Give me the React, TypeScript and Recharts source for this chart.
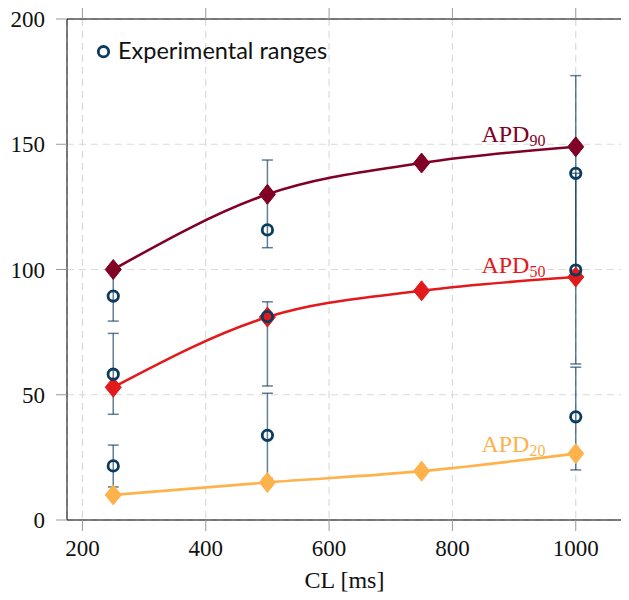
import React from 'react';
import {
  ComposedChart,
  Line,
  Scatter,
  XAxis,
  YAxis,
  CartesianGrid,
  ErrorBar,
  Legend,
} from 'recharts';

// Simulated action potential durations vs. cycle length
const cycleLengths = [250, 500, 750, 1000];
const apd90 = [100, 130, 142.5, 149];
const apd50 = [53, 81, 91.5, 97];
const apd20 = [10, 15, 19.5, 26.5];

// Experimental ranges: centre value with min / max
const expCl = [250, 250, 250, 500, 500, 500, 1000, 1000, 1000];
const expMean = [89.4, 58.2, 21.6, 115.8, 81.2, 33.8, 138.4, 99.8, 41.2];
const expLow = [79.4, 42.2, 13.2, 108.7, 53.5, 16.6, 99.6, 62.3, 20.0];
const expHigh = [100, 74.5, 29.9, 143.7, 87.1, 50.6, 177.4, 138.4, 61.0];

// Curve labels, anchored in data coordinates
const labelNames = ['90', '50', '20'];
const labelCl = [847, 847, 847];
const labelV = [151, 98.5, 27.1];

const xTicks = [200, 400, 600, 800, 1000];
const yTicks = [0, 50, 100, 150, 200];
const xDomain = [175, 1075];
const yDomain = [0, 200];

const C90 = '#800026';
const C50 = '#e31a1c';
const C20 = '#feb24c';
const CEXP = '#0b3b5e';
const SERIF = 'Liberation Serif';
const labelColors = [C90, C50, C20];

const toSeries = (vals: number[]) => cycleLengths.map((cl, i) => ({ cl, v: vals[i] }));
const s90 = toSeries(apd90);
const s50 = toSeries(apd50);
const s20 = toSeries(apd20);

const expData = expCl.map((cl, i) => ({
  cl,
  v: expMean[i],
  err: [expMean[i] - expLow[i], expHigh[i] - expMean[i]],
}));

const labelData = labelNames.map((sub, i) => ({
  cl: labelCl[i],
  v: labelV[i],
  sub,
  color: labelColors[i],
}));

const diamond = (color: string) => (props: any) => {
  const { cx, cy, index } = props;
  if (cx == null || cy == null) return <g key={index} />;
  return (
    <path
      key={`d-${index}`}
      d={`M${cx},${cy - 10}L${cx + 8},${cy}L${cx},${cy + 10}L${cx - 8},${cy}Z`}
      fill={color}
      stroke={color}
      strokeWidth={1}
      strokeLinejoin="round"
    />
  );
};

const ring = (props: any) => {
  const { cx, cy } = props;
  return <circle cx={cx} cy={cy} r={5.2} fill="none" stroke={CEXP} strokeWidth={2.8} />;
};

const hidden = () => <g />;

const apdLabel = (props: any) => {
  const { cx, cy, payload } = props;
  return (
    <text x={cx} y={cy} fill={payload.color} fontFamily={SERIF} fontSize={24}>
      APD
      <tspan fontSize={16} dy={4}>
        {payload.sub}
      </tspan>
    </text>
  );
};

const LegendBox = () => (
  <svg width={300} height={40} style={{ display: 'block', overflow: 'visible' }}>
    <circle cx={10.5} cy={13.7} r={5.2} fill="none" stroke={CEXP} strokeWidth={2.8} />
    <text x={25} y={20.5} fontFamily="Lato" fontSize={23.5} fill="#111">
      Experimental ranges
    </text>
  </svg>
);

const XTick = (props: any) => {
  const { x, y, payload } = props;
  return (
    <text x={x} y={y + 17} textAnchor="middle" fontFamily={SERIF} fontSize={23} fill="#111">
      {payload.value}
    </text>
  );
};

const YTick = (props: any) => {
  const { x, y, payload } = props;
  return (
    <text x={x} y={y + 8} textAnchor="end" fontFamily={SERIF} fontSize={23} fill="#111">
      {payload.value}
    </text>
  );
};

const blank = () => '';
const tickLine = { stroke: '#999', strokeWidth: 1 };
const axisLine = { stroke: '#000', strokeWidth: 1 };

export default function App() {
  return (
    <ComposedChart
      width={621}
      height={590}
      margin={{ top: 0, right: 0, bottom: 0, left: 0 }}
    >
      <CartesianGrid stroke="#dadada" strokeDasharray="7 5" strokeWidth={1.2} />
      <XAxis
        dataKey="cl"
        type="number"
        domain={xDomain}
        ticks={xTicks}
        allowDataOverflow
        height={78}
        tickSize={11}
        tickMargin={8}
        tick={<XTick />}
        tickLine={tickLine}
        axisLine={axisLine}
        label={{ value: 'CL [ms]', position: 'insideBottom', offset: 10, style: { fontFamily: SERIF, fontSize: 24, fill: '#111' } }}
      />
      <XAxis
        xAxisId="top"
        orientation="top"
        dataKey="cl"
        type="number"
        domain={xDomain}
        ticks={xTicks}
        allowDataOverflow
        height={11}
        tickSize={11}
        tickFormatter={blank}
        tickLine={tickLine}
        axisLine={axisLine}
      />
      <YAxis
        dataKey="v"
        type="number"
        domain={yDomain}
        ticks={yTicks}
        allowDataOverflow
        width={59}
        tickSize={11}
        tickMargin={11}
        tick={<YTick />}
        tickLine={tickLine}
        axisLine={axisLine}
      />
      <YAxis
        yAxisId="right"
        orientation="right"
        type="number"
        domain={yDomain}
        ticks={yTicks}
        allowDataOverflow
        width={7}
        tickSize={11}
        tickFormatter={blank}
        tickLine={tickLine}
        axisLine={axisLine}
      />
      <Legend
        layout="horizontal"
        verticalAlign="middle"
        align="center"
        wrapperStyle={{ left: 85, top: 30, width: 300, height: 40 }}
        content={LegendBox}
      />
      <Scatter data={expData} dataKey="v" shape={hidden} isAnimationActive={false} zIndex={350}>
        <ErrorBar dataKey="err" direction="y" width={5.5} stroke={CEXP} strokeOpacity={0.65} strokeWidth={1.5} zIndex={350} />
      </Scatter>
      <Line data={s90} dataKey="v" type="monotone" stroke={C90} strokeWidth={2.6} dot={diamond(C90)} activeDot={false} isAnimationActive={false} />
      <Line data={s50} dataKey="v" type="monotone" stroke={C50} strokeWidth={2.6} dot={diamond(C50)} activeDot={false} isAnimationActive={false} />
      <Line data={s20} dataKey="v" type="monotone" stroke={C20} strokeWidth={2.6} dot={diamond(C20)} activeDot={false} isAnimationActive={false} />
      <Scatter data={expData} dataKey="v" shape={ring} isAnimationActive={false} zIndex={700} />
      <Scatter data={labelData} dataKey="v" shape={apdLabel} isAnimationActive={false} zIndex={700} />
    </ComposedChart>
  );
}
